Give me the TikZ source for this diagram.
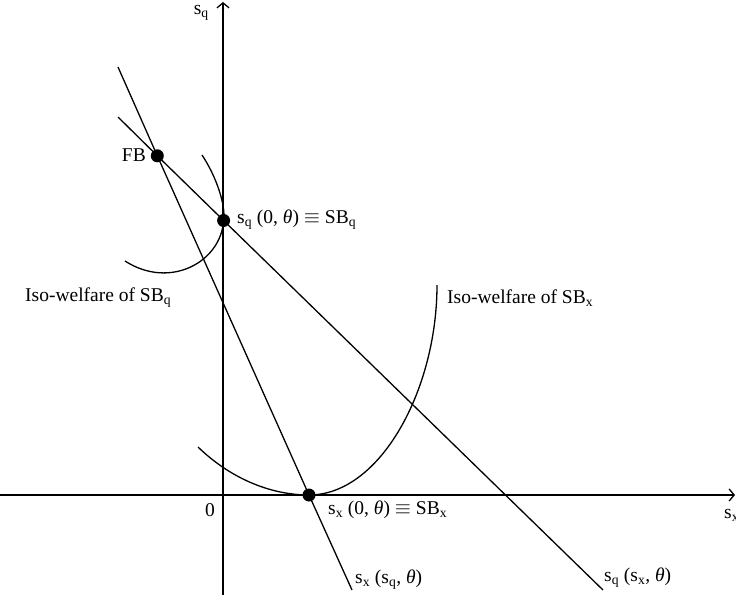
\documentclass[tikz,border=0pt]{standalone}
\usepackage{fontspec}
\setmainfont{Liberation Serif}
\usetikzlibrary{arrows.meta}
\tikzset{
  curve/.style={line width=1.3pt},
  axis/.style={line width=1.3pt,-{Straight Barb[length=5pt,width=12pt,line width=1.3pt]}},
  dot/.style={circle,fill=black,inner sep=0pt,minimum size=13pt},
  lbl/.style={font=\fontsize{19.5}{22}\selectfont,inner sep=0pt},
}
\newcommand{\sbq}[1]{s\textsubscript{#1}}
\begin{document}
\begin{tikzpicture}[x=1pt,y=-1pt]
\useasboundingbox (0,0) rectangle (736,595);
% axes
\coordinate (xl) at (0,495);
\coordinate (xr) at (735,495);
\coordinate (yb) at (223,595);
\coordinate (yt) at (223,2);
\draw[axis] (xl) -- (xr);
\draw[axis] (yb) -- (yt);
% dots
\node[dot] (FB) at (157.3,155.8) {};
\node[dot] (SBq) at (223.6,220.5) {};
\node[dot] (SBx) at (309,495) {};
% line endpoints
\coordinate (Aa) at (118,117);
\coordinate (Ab) at (603,590);
\coordinate (Ba) at (118,67);
\coordinate (Bb) at (352,590);
\draw[curve] (Aa) -- (FB.center) -- (SBq.center) -- (Ab);
\draw[curve] (Ba) -- (FB.center) -- (SBx.center) -- (Bb);
% iso-welfare curves
\coordinate (Qa) at (202,155);
\coordinate (Qb) at (125,261);
\draw[curve] (Qa) .. controls (216,176) and (226,205) .. (SBq.center)
  .. controls (221,262) and (170,290) .. (Qb);
\coordinate (Xa) at (198,447);
\coordinate (Xb) at (437,285);
\draw[curve] (Xa) .. controls (230,478) and (270,495) .. (SBx.center)
  .. controls (380,495) and (437,390) .. (Xb);
% labels
\node[lbl,anchor=east] (lFB) at (146,155) {FB};
\node[lbl,anchor=west] (lSBq) at (237,220) {\sbq{q} (0, {\itshape θ}) $\equiv$ SB\textsubscript{q}};
\node[lbl,anchor=west] (lIq) at (25,298) {Iso-welfare of SB\textsubscript{q}};
\node[lbl,anchor=west] (lIx) at (447,298) {Iso-welfare of SB\textsubscript{x}};
\node[lbl,anchor=center] (l0) at (210,510) {0};
\node[lbl,anchor=west] (lSBx) at (328,510) {\sbq{x} (0, {\itshape θ}) $\equiv$ SB\textsubscript{x}};
\node[lbl,anchor=west] (lBx) at (355,580) {\sbq{x} (\sbq{q}, {\itshape θ})};
\node[lbl,anchor=west] (lAq) at (604,578) {\sbq{q} (\sbq{x}, {\itshape θ})};
\node[lbl,anchor=west] (lsx) at (724,515) {\sbq{x}};
\node[lbl,anchor=east] (lsq) at (209,13) {\sbq{q}};
\end{tikzpicture}
\end{document}
